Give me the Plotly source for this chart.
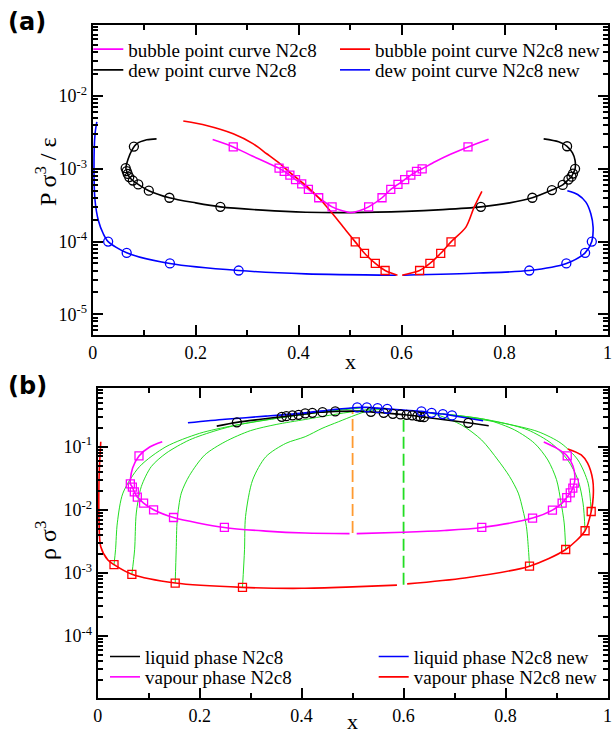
import plotly.graph_objects as go

W, H = 612, 733

# ================= Panel (a): P sigma^3 / eps  vs  x =================
# dew point curve N2c8 (black)
dew_line_x = [0.124, 0.105, 0.0854, 0.0757, 0.069, 0.0645, 0.066, 0.068, 0.071, 0.078, 0.0885, 0.109, 0.149, 0.2, 0.248,
              0.33, 0.414, 0.5, 0.608, 0.68, 0.754, 0.81, 0.854, 0.892, 0.913, 0.924, 0.930, 0.933, 0.937, 0.937,
              0.932, 0.9215, 0.905, 0.876]
dew_line_y = [2.58e-3, 2.5e-3, 2.2e-3, 1.78e-3, 1.37e-3, 1.02e-3, 9.3e-4, 8.5e-4, 7.7e-4, 6.9e-4, 6.1e-4, 5.0e-4, 4.0e-4,
              3.4e-4, 3.0e-4, 2.7e-4, 2.53e-4, 2.5e-4, 2.6e-4, 2.75e-4, 3.0e-4, 3.4e-4, 4.0e-4, 5.1e-4, 6.0e-4, 7.1e-4,
              7.8e-4, 8.6e-4, 1.0e-3, 1.3e-3, 1.65e-3, 2.04e-3, 2.35e-3, 2.58e-3]
dew_pts_x = [0.080, 0.064, 0.066, 0.068, 0.071, 0.078, 0.0885, 0.109, 0.149, 0.248, 0.754, 0.854, 0.892, 0.913, 0.924,
             0.930, 0.933, 0.937, 0.9215]
dew_pts_y = [2.02e-3, 1.02e-3, 9.3e-4, 8.5e-4, 7.7e-4, 6.9e-4, 6.1e-4, 5.0e-4, 4.0e-4, 3.0e-4, 3.0e-4, 4.0e-4, 5.1e-4,
             6.0e-4, 7.1e-4, 7.8e-4, 8.6e-4, 1.0e-3, 2.04e-3]

# bubble point curve N2c8 (magenta)
bub_line_x = [0.233, 0.273, 0.31, 0.34, 0.362, 0.372, 0.383, 0.394, 0.406, 0.419, 0.439, 0.465, 0.485, 0.502, 0.518,
              0.536, 0.562, 0.579, 0.593, 0.606, 0.618, 0.629, 0.640, 0.665, 0.695, 0.729, 0.769]
bub_line_y = [2.52e-3, 2.0e-3, 1.5e-3, 1.2e-3, 1.02e-3, 9.2e-4, 8.2e-4, 7.1e-4, 6.2e-4, 5.2e-4, 4.0e-4, 3.0e-4, 2.65e-4,
              2.5e-4, 2.65e-4, 3.0e-4, 4.0e-4, 5.2e-4, 6.1e-4, 7.1e-4, 8.2e-4, 9.2e-4, 1.0e-3, 1.25e-3, 1.58e-3,
              2.0e-3, 2.55e-3]
bub_pts_x = [0.273, 0.362, 0.372, 0.383, 0.394, 0.406, 0.419, 0.439, 0.465, 0.536, 0.562, 0.579, 0.593, 0.606, 0.618,
             0.629, 0.640, 0.729]
bub_pts_y = [2.0e-3, 1.02e-3, 9.2e-4, 8.2e-4, 7.1e-4, 6.2e-4, 5.2e-4, 4.0e-4, 3.0e-4, 3.0e-4, 4.0e-4, 5.2e-4, 6.1e-4,
             7.1e-4, 8.2e-4, 9.2e-4, 1.0e-3, 2.0e-3]

# bubble point curve N2c8 new (red)
bubn_line_x = [0.176, 0.221, 0.273, 0.312, 0.338, 0.364, 0.39, 0.414, 0.439, 0.466, 0.492, 0.510, 0.528, 0.549, 0.568,
               0.592, None, 0.601, 0.635, 0.655, 0.676, 0.696, 0.725, 0.741, 0.756]
bubn_line_y = [4.54e-3, 3.94e-3, 3.03e-3, 2.2e-3, 1.61e-3, 1.17e-3, 8.1e-4, 5.9e-4, 4.0e-4, 2.41e-4, 1.42e-4, 9.9e-5,
               6.9e-5, 5.0e-5, 4.0e-5, 3.45e-5, None, 3.45e-5, 4.0e-5, 5.0e-5, 6.9e-5, 9.9e-5, 1.58e-4, 2.97e-4, 4.9e-4]
bubn_pts_x = [0.510, 0.528, 0.549, 0.568, 0.635, 0.655, 0.676, 0.696]
bubn_pts_y = [9.9e-5, 6.9e-5, 5.0e-5, 4.0e-5, 4.0e-5, 5.0e-5, 6.9e-5, 9.9e-5]

# dew point curve N2c8 new (blue)
dewn_line_x = [0.008, 0.0045, 0.0025, 0.0045, 0.011, 0.0206, 0.030, 0.066, 0.15, 0.2835, 0.414, 0.589, None, 0.603,
               0.75, 0.848, 0.92, 0.9565, 0.9695, 0.972, 0.9676, 0.958, 0.942, 0.922]
dewn_line_y = [4.4e-3, 3.0e-3, 1.05e-3, 3.7e-4, 1.95e-4, 1.28e-4, 1.0e-4, 7.0e-5, 5.0e-5, 4.0e-5, 3.6e-5, 3.45e-5, None,
               3.45e-5, 3.7e-5, 4.0e-5, 5.0e-5, 7.0e-5, 1.0e-4, 1.58e-4, 2.41e-4, 3.48e-4, 4.44e-4, 5.0e-4]
dewn_pts_x = [0.030, 0.066, 0.150, 0.2835, 0.848, 0.920, 0.9565, 0.9695]
dewn_pts_y = [1.0e-4, 7.0e-5, 5.0e-5, 4.0e-5, 4.0e-5, 5.0e-5, 7.0e-5, 1.0e-4]

# ================= Panel (b): rho sigma^3  vs  x =================
# liquid phase N2c8 (black)
liq_line_x = [0.2335, 0.273, 0.32, 0.361, 0.394, 0.421, 0.441, 0.466, 0.50, 0.536, 0.561, 0.594, 0.617, 0.640, 0.68,
              0.727, 0.767]
liq_line_y = [0.212, 0.243, 0.272, 0.298, 0.320, 0.344, 0.353, 0.362, 0.366, 0.357, 0.344, 0.325, 0.313, 0.294, 0.268,
              0.239, 0.215]
liq_pts_x = [0.273, 0.361, 0.370, 0.382, 0.394, 0.407, 0.421, 0.441, 0.466, 0.536, 0.561, 0.579, 0.594, 0.606, 0.617,
             0.627, 0.633, 0.640, 0.727]
liq_pts_y = [0.243, 0.298, 0.305, 0.313, 0.320, 0.337, 0.344, 0.353, 0.362, 0.357, 0.344, 0.332, 0.325, 0.320, 0.313,
             0.305, 0.298, 0.294, 0.239]

# liquid phase N2c8 new (blue)
liqn_line_x = [0.177, 0.25, 0.33, 0.407, 0.46, 0.509, 0.528, 0.549, 0.568, 0.60, 0.635, 0.655, 0.677, 0.695, 0.756]
liqn_line_y = [0.239, 0.272, 0.305, 0.344, 0.385, 0.419, 0.42, 0.408, 0.398, 0.38, 0.363, 0.344, 0.329, 0.313, 0.258]
liqn_pts_x = [0.509, 0.528, 0.549, 0.568, 0.635, 0.655, 0.677, 0.695]
liqn_pts_y = [0.419, 0.419, 0.408, 0.398, 0.363, 0.344, 0.329, 0.313]

# vapour phase N2c8 (magenta)
vap_line_x = [0.1266, 0.102, 0.081, 0.0685, 0.064, 0.064, 0.068, 0.0718, 0.0777, 0.090, 0.1096, 0.1487, 0.2485, 0.33,
              0.407, 0.494, None, 0.508, 0.60, 0.68, 0.7534, 0.853, 0.892, 0.911, 0.920, 0.927, 0.932, 0.935, 0.936,
              0.932, 0.921, 0.90, 0.875]
vap_line_y = [0.12, 0.099, 0.0713, 0.046, 0.0298, 0.0258, 0.0229, 0.0192, 0.0159, 0.0128, 0.010, 0.00755, 0.00525,
              0.0046, 0.00428, 0.0042, None, 0.0042, 0.0044, 0.0047, 0.00525, 0.0074, 0.0099, 0.0128, 0.0156, 0.0186,
              0.022, 0.0264, 0.035, 0.05, 0.0713, 0.095, 0.119]
vap_pts_x = [0.081, 0.064, 0.068, 0.0718, 0.0777, 0.090, 0.1096, 0.1487, 0.2485, 0.7534, 0.853, 0.892, 0.911, 0.920,
             0.927, 0.932, 0.935, 0.921]
vap_pts_y = [0.0713, 0.0258, 0.0229, 0.0192, 0.0159, 0.0128, 0.010, 0.00755, 0.00525, 0.00525, 0.0074, 0.0099, 0.0128,
             0.0156, 0.0186, 0.022, 0.0264, 0.0713]

# vapour phase N2c8 new (red)
vapn_line_x = [0.006, 0.004, 0.0026, 0.0026, 0.006, 0.020, 0.032, 0.067, 0.152, 0.284, 0.40, 0.50, 0.587, None, 0.607,
               0.72, 0.847, 0.918, 0.956, 0.968, 0.972, 0.971, 0.961, 0.9485, 0.922]
vapn_line_y = [0.12, 0.06, 0.03, 0.0069, 0.0026, 0.0016, 1.35e-3, 9.5e-4, 6.9e-4, 5.9e-4, 5.7e-4, 6.0e-4, 6.4e-4, None,
               6.7e-4, 8.3e-4, 1.28e-3, 2.35e-3, 4.66e-3, 9.4e-3, 0.0162, 0.0298, 0.0547, 0.074, 0.092]
vapn_pts_x = [0.032, 0.067, 0.152, 0.284, 0.847, 0.918, 0.956, 0.968]
vapn_pts_y = [1.35e-3, 9.5e-4, 6.9e-4, 5.9e-4, 1.28e-3, 2.35e-3, 4.66e-3, 9.4e-3]

# tie lines (green)
tie1_x = [0.032, 0.035, 0.0385, 0.0495, 0.082, 0.134, 0.2, 0.265, 0.35, 0.43, 0.509]
tie1_y = [1.35e-3, 2.33e-3, 6.2e-3, 0.0184, 0.0483, 0.1, 0.163, 0.215, 0.28, 0.35, 0.419]
tie2_x = [0.067, 0.0724, 0.0757, 0.0855, 0.105, 0.134, 0.18, 0.232, 0.278, 0.36, 0.45, 0.528]
tie2_y = [9.5e-4, 2.33e-3, 8.9e-3, 0.0233, 0.0483, 0.0787, 0.128, 0.18, 0.225, 0.29, 0.36, 0.419]
tie3_x = [0.152, 0.154, 0.156, 0.164, 0.18, 0.21, 0.25, 0.30, 0.35, 0.407, 0.47, 0.549]
tie3_y = [6.9e-4, 2.33e-3, 6.95e-3, 0.0184, 0.035, 0.074, 0.12, 0.18, 0.225, 0.27, 0.33, 0.408]
tie4_x = [0.284, 0.288, 0.29, 0.304, 0.33, 0.369, 0.407, 0.44, 0.472, 0.505, 0.531, 0.568]
tie4_y = [5.9e-4, 2.33e-3, 7.8e-3, 0.0298, 0.0695, 0.113, 0.144, 0.195, 0.248, 0.316, 0.37, 0.398]
tie5_x = [0.847, 0.845, 0.841, 0.834, 0.825, 0.808, 0.785, 0.753, 0.714, 0.668, 0.635]
tie5_y = [1.28e-3, 2.33e-3, 5.4e-3, 0.01, 0.0184, 0.0336, 0.0616, 0.128, 0.22, 0.316, 0.363]
tie6_x = [0.918, 0.915, 0.909, 0.9, 0.883, 0.857, 0.818, 0.766, 0.71, 0.655]
tie6_y = [2.35e-3, 6.2e-3, 0.0128, 0.03, 0.0616, 0.113, 0.184, 0.264, 0.31, 0.344]
tie7_x = [0.956, 0.952, 0.942, 0.922, 0.890, 0.844, 0.785, 0.73, 0.677]
tie7_y = [4.66e-3, 0.0128, 0.03, 0.0616, 0.113, 0.184, 0.248, 0.295, 0.329]
tie8_x = [0.968, 0.962, 0.942, 0.909, 0.864, 0.798, 0.745, 0.695]
tie8_y = [9.4e-3, 0.0264, 0.0616, 0.113, 0.173, 0.234, 0.275, 0.313]
ties = [(tie1_x, tie1_y), (tie2_x, tie2_y), (tie3_x, tie3_y), (tie4_x, tie4_y),
        (tie5_x, tie5_y), (tie6_x, tie6_y), (tie7_x, tie7_y), (tie8_x, tie8_y)]

# vertical dashed lines (azeotropic compositions)
azeo_x = [0.5, 0.5]
azeo_y = [0.0043, 0.37]
azeon_x = [0.6, 0.6]
azeon_y = [6.5e-4, 0.32]

# tick labels
x_tickvals = [0, 0.2, 0.4, 0.6, 0.8, 1.0]
x_ticktext = ['0', '0.2', '0.4', '0.6', '0.8', '1']
x_minor = [0.1, 0.3, 0.5, 0.7, 0.9]
ya_tickvals = [1e-5, 1e-4, 1e-3, 1e-2]
ya_ticktext = ['10<sup>-5</sup>', '10<sup>-4</sup>', '10<sup>-3</sup>', '10<sup>-2</sup>']
yb_tickvals = [1e-4, 1e-3, 1e-2, 1e-1]
yb_ticktext = ['10<sup>-4</sup>', '10<sup>-3</sup>', '10<sup>-2</sup>', '10<sup>-1</sup>']
y_minor = [k * 10.0 ** n for n in range(-6, 1) for k in range(2, 10)]

MAG = '#ff00ff'
RED = '#ff0000'
BLUE = '#0000ff'
BLK = '#000000'
GRN = '#22dd22'
ORG = '#ff9a30'
SERIF = 'Liberation Serif'

fig = go.Figure()


def add_line(x, y, color, xa, ya, name=None, legend=None, width=1.6, dash='solid', shape='spline'):
    fig.add_trace(go.Scatter(
        x=x, y=y, xaxis=xa, yaxis=ya, mode='lines', connectgaps=False, hoverinfo='skip',
        line=dict(color=color, width=width, dash=dash, shape=shape, smoothing=0.8),
        name=name, legend=legend, showlegend=name is not None))


def add_pts(x, y, color, xa, ya, symbol, size):
    fig.add_trace(go.Scatter(
        x=x, y=y, xaxis=xa, yaxis=ya, mode='markers', hoverinfo='skip', showlegend=False,
        marker=dict(symbol=symbol, size=size, color=color, line=dict(color=color, width=1.3))))


# ---- panel (a) ----
add_line(dew_line_x, dew_line_y, BLK, 'x', 'y', 'dew point curve N2c8', 'legend2')
add_line(bub_line_x, bub_line_y, MAG, 'x', 'y', 'bubble point curve N2c8', 'legend')
add_line(dewn_line_x, dewn_line_y, BLUE, 'x', 'y', 'dew point curve N2c8 new', 'legend4')
add_line(bubn_line_x, bubn_line_y, RED, 'x', 'y', 'bubble point curve N2c8 new', 'legend3')
add_pts(dew_pts_x, dew_pts_y, BLK, 'x', 'y', 'circle-open', 9)
add_pts(bub_pts_x, bub_pts_y, MAG, 'x', 'y', 'square-open', 8)
add_pts(dewn_pts_x, dewn_pts_y, BLUE, 'x', 'y', 'circle-open', 9)
add_pts(bubn_pts_x, bubn_pts_y, RED, 'x', 'y', 'square-open', 8)

# ---- panel (b) ----
for tx, ty in ties:
    add_line(tx, ty, GRN, 'x2', 'y2', width=1.0)
add_line(azeo_x, azeo_y, ORG, 'x2', 'y2', width=1.8, dash='12px,5px', shape='linear')
add_line(azeon_x, azeon_y, GRN, 'x2', 'y2', width=1.8, dash='12px,5px', shape='linear')
add_line(liq_line_x, liq_line_y, BLK, 'x2', 'y2', 'liquid phase N2c8', 'legend5')
add_line(vap_line_x, vap_line_y, MAG, 'x2', 'y2', 'vapour phase N2c8', 'legend6')
add_line(liqn_line_x, liqn_line_y, BLUE, 'x2', 'y2', 'liquid phase N2c8 new', 'legend7')
add_line(vapn_line_x, vapn_line_y, RED, 'x2', 'y2', 'vapour phase N2c8 new', 'legend8')
add_pts(liq_pts_x, liq_pts_y, BLK, 'x2', 'y2', 'circle-open', 9)
add_pts(vap_pts_x, vap_pts_y, MAG, 'x2', 'y2', 'square-open', 8)
add_pts(liqn_pts_x, liqn_pts_y, BLUE, 'x2', 'y2', 'circle-open', 9)
add_pts(vapn_pts_x, vapn_pts_y, RED, 'x2', 'y2', 'square-open', 8)

tickfont = dict(family=SERIF, size=18, color='black')
common = dict(showline=True, linecolor='black', linewidth=2, mirror='ticks', ticks='inside', ticklen=10,
              tickwidth=1.5, tickcolor='black', showgrid=False, zeroline=False, tickfont=tickfont,
              automargin=False)
xcommon = dict(common, range=[0, 1], tickmode='array', tickvals=x_tickvals, ticktext=x_ticktext,
               minor=dict(tickmode='array', tickvals=x_minor, ticks='inside', ticklen=5, tickwidth=1.5,
                          tickcolor='black', showgrid=False))
ycommon = dict(common, type='log', tickmode='array',
               minor=dict(tickmode='array', tickvals=y_minor, ticks='inside', ticklen=5, tickwidth=1.5,
                          tickcolor='black', showgrid=False))


def px_x(p):
    return p / W


def px_y(p):
    return 1 - p / H


legend_font = dict(family=SERIF, size=19, color='black')
leg = dict(orientation='v', xanchor='left', yanchor='middle', bgcolor='rgba(0,0,0,0)', borderwidth=0,
           font=legend_font, itemwidth=30)

fig.update_layout(
    width=W, height=H, margin=dict(l=0, r=0, t=0, b=0),
    paper_bgcolor='white', plot_bgcolor='white',
    xaxis=dict(xcommon, domain=[px_x(92.7), px_x(607.5)], anchor='y'),
    yaxis=dict(ycommon, domain=[px_y(335), px_y(25)], anchor='x', range=[-5.284, -1.024],
               tickvals=ya_tickvals, ticktext=ya_ticktext),
    xaxis2=dict(xcommon, domain=[px_x(97.7), px_x(607.5)], anchor='y2'),
    yaxis2=dict(ycommon, domain=[px_y(698.3), px_y(388.3)], anchor='x2', range=[-4.987, -0.0745],
                tickvals=yb_tickvals, ticktext=yb_ticktext),
    legend=dict(leg, x=px_x(128.3 - 40), y=px_y(49.3)),
    legend2=dict(leg, x=px_x(128.3 - 40), y=px_y(70)),
    legend3=dict(leg, x=px_x(375 - 40), y=px_y(49.3)),
    legend4=dict(leg, x=px_x(375 - 40), y=px_y(70)),
    legend5=dict(leg, x=px_x(145 - 40), y=px_y(656.7)),
    legend6=dict(leg, x=px_x(145 - 40), y=px_y(677)),
    legend7=dict(leg, x=px_x(413.7 - 40), y=px_y(656.7)),
    legend8=dict(leg, x=px_x(413.7 - 40), y=px_y(677)),
    showlegend=True,
)

title_font = dict(family=SERIF, size=24, color='black')
annots = [
    dict(text='<b>(a)</b>', x=px_x(27), y=px_y(22), font=dict(family='DejaVu Sans', size=24, color='black')),
    dict(text='<b>(b)</b>', x=px_x(27), y=px_y(386), font=dict(family='DejaVu Sans', size=24, color='black')),
    dict(text='x', x=px_x(350), y=px_y(361), font=dict(family=SERIF, size=22, color='black')),
    dict(text='x', x=px_x(352), y=px_y(721), font=dict(family=SERIF, size=22, color='black')),
    dict(text='P σ<sup>3</sup> / ε', x=px_x(46), y=px_y(172), textangle=-90, font=title_font),
    dict(text='ρ σ<sup>3</sup>', x=px_x(46), y=px_y(541), textangle=-90, font=title_font),
]
for a in annots:
    fig.add_annotation(xref='paper', yref='paper', showarrow=False, xanchor='center', yanchor='middle', **a)

fig.write_html('out.html')
